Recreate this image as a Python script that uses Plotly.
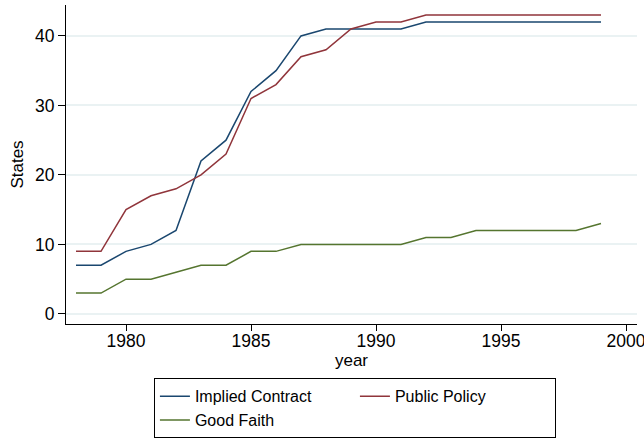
import plotly.graph_objects as go

years = list(range(1978, 2000))
implied_contract = [7, 7, 9, 10, 12, 22, 25, 32, 35, 40, 41, 41, 41, 41, 42, 42, 42, 42, 42, 42, 42, 42]
public_policy = [9, 9, 15, 17, 18, 20, 23, 31, 33, 37, 38, 41, 42, 42, 43, 43, 43, 43, 43, 43, 43, 43]
good_faith = [3, 3, 5, 5, 6, 7, 7, 9, 9, 10, 10, 10, 10, 10, 11, 11, 12, 12, 12, 12, 12, 13]

x_ticks = [1980, 1985, 1990, 1995, 2000]
y_ticks = [0, 10, 20, 30, 40]

fig = go.Figure()
series = [
    ("Implied Contract", implied_contract, "#1a476f"),
    ("Public Policy", public_policy, "#90353b"),
    ("Good Faith", good_faith, "#55752f"),
]
for name, vals, color in series:
    fig.add_trace(go.Scatter(x=years, y=vals, mode="lines", name=name,
                             line=dict(color=color, width=1.5)))

font = "Liberation Sans, Arial, Helvetica, sans-serif"
fig.update_layout(
    width=644, height=439,
    margin=dict(l=66, r=7, t=5, b=115, autoexpand=False),
    paper_bgcolor="white", plot_bgcolor="white",
    font=dict(family=font, size=17.5, color="black"),
    showlegend=True,
    legend=dict(
        orientation="h", x=0.506, xanchor="center", y=-0.17, yanchor="top",
        bordercolor="black", borderwidth=1, bgcolor="white",
        entrywidth=155, entrywidthmode="pixels",
        font=dict(size=16), tracegroupgap=0,
    ),
    xaxis=dict(
        range=[1977.6, 2000.44], tickvals=x_ticks, ticks="outside", ticklen=6,
        tickcolor="black", showline=True, linecolor="black", linewidth=1.2,
        showgrid=False, zeroline=False, automargin=False,
        ticklabeloverflow="allow", ticklabelstandoff=-5,
        title=dict(text="year", standoff=2, font=dict(size=17)),
    ),
    yaxis=dict(
        range=[-1.45, 44.45], tickvals=y_ticks, ticks="outside", ticklen=7,
        tickcolor="black", showline=True, linecolor="black", linewidth=1.2,
        showgrid=True, gridcolor="#eaf2f3", gridwidth=1.5, zeroline=False,
        automargin=False,
        title=dict(text="States", standoff=6, font=dict(size=17)),
    ),
)

fig.write_html("out.html")
